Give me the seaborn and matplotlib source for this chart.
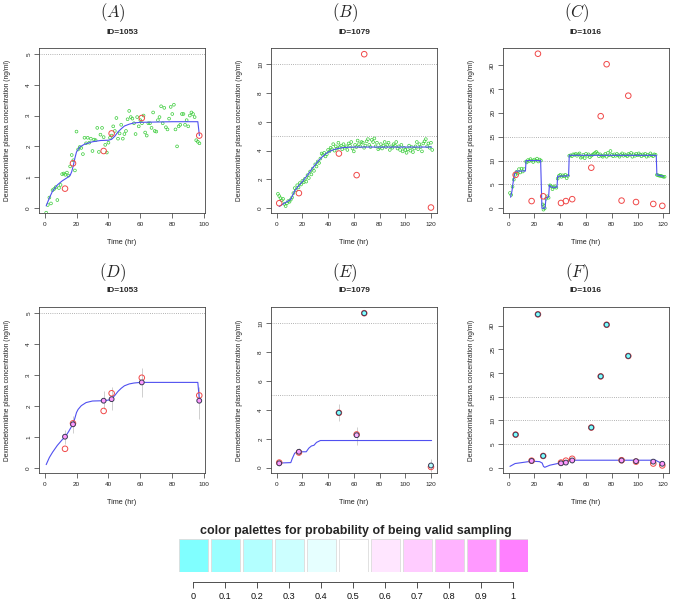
import numpy as np
import pandas as pd
import matplotlib
matplotlib.use("Agg")
import matplotlib.pyplot as plt
import seaborn as sns

sns.set_style("white")
plt.rcParams['font.family'] = ['Liberation Sans', 'DejaVu Sans']
plt.rcParams['mathtext.fontset'] = 'cm'
plt.rcParams['xtick.bottom'] = True
plt.rcParams['ytick.left'] = True

# ---------------- data ----------------
ylabel_text = "Dexmedetomidine plasma concentration (ng/ml)"
xlabel_text = "Time (hr)"
legend_title = "color palettes for probability of being valid sampling"
legend_ticks = [0, 0.1, 0.2, 0.3, 0.4, 0.5, 0.6, 0.7, 0.8, 0.9, 1]
legend_labels = ["0", "0.1", "0.2", "0.3", "0.4", "0.5", "0.6", "0.7", "0.8", "0.9", "1"]
cm_colors = ["#80FFFF", "#99FFFF", "#B3FFFF", "#CCFFFF", "#E6FFFF", "#FFFFFF",
             "#FFE6FF", "#FFCCFF", "#FFB3FF", "#FF99FF", "#FF80FF"]

# Patient 1053 (A, D)
A_green_t = list(range(1, 98))
A_green_c = [-0.15, 0.10, 0.34, 0.15, 0.58, 0.62, 0.68, 0.26, 0.65, 0.75, 1.10, 1.12, 1.08, 1.15,
             1.05, 1.35, 1.72, 1.55, 1.22, 2.48, 1.90, 1.98, 1.95, 1.75, 2.28, 2.10, 2.28, 2.12,
             2.25, 1.85, 2.22, 2.20, 2.60, 1.82, 2.38, 2.60, 2.30, 2.05, 1.80, 2.12, 2.28, 2.35,
             2.65, 2.50, 2.92, 2.25, 2.42, 2.70, 2.25, 2.40, 2.50, 2.88, 3.15, 2.95, 2.90, 2.75,
             2.40, 2.95, 2.65, 2.85, 2.75, 3.00, 2.45, 2.35, 2.75, 2.75, 2.60, 3.10, 2.50, 2.48,
             2.85, 2.95, 3.30, 2.75, 3.25, 2.62, 2.55, 2.90, 3.28, 3.05, 3.35, 2.55, 2.00, 2.65,
             2.70, 3.05, 3.05, 2.70, 2.85, 2.65, 3.00, 3.10, 3.05, 2.95, 2.20, 2.15, 2.10]
A_line_t = [1, 3, 5, 8, 11, 14, 16, 17, 18, 19, 20, 22, 25, 30, 35, 40, 42, 44, 46, 48, 50, 53, 56, 60, 70, 80, 90, 96, 97]
A_line_c = [0.07, 0.33, 0.55, 0.75, 0.88, 0.98, 1.06, 1.18, 1.38, 1.62, 1.82, 1.98, 2.07, 2.15, 2.19, 2.20,
            2.23, 2.33, 2.47, 2.57, 2.66, 2.72, 2.76, 2.78, 2.79, 2.80, 2.80, 2.80, 2.35]
A_obs_t = [12.8, 17.8, 37.0, 42.0, 60.9, 96.9]
A_obs_c = [0.63, 1.45, 1.85, 2.42, 2.92, 2.35]
D_line_t = [1, 3, 5, 8, 11, 13, 15, 17, 18, 19, 20, 21, 23, 26, 30, 37, 40, 42, 44, 46, 48, 50, 53, 56, 60, 70, 80, 90, 96, 97]
D_line_c = [0.12, 0.35, 0.52, 0.74, 0.92, 1.02, 1.18, 1.36, 1.45, 1.62, 1.80, 1.90, 2.02, 2.12, 2.17, 2.18,
            2.20, 2.24, 2.35, 2.48, 2.58, 2.66, 2.72, 2.75, 2.77, 2.77, 2.77, 2.77, 2.77, 2.20]
D_pred_c = [1.02, 1.42, 2.18, 2.23, 2.77, 2.18]
D_lo = [0.78, 1.15, 1.90, 1.88, 2.30, 1.60]
D_hi = [1.25, 1.70, 2.50, 2.62, 3.22, 2.62]
D_prob = [0.9, 0.9, 0.9, 0.9, 0.9, 0.9]

# Patient 1079 (B, E)
B_green_t = list(range(1, 122))
B_green_c = [1.00, 0.85, 0.70, 0.55, 0.65, 0.30, 0.15, 0.35, 0.50, 0.45, 0.60, 0.75, 1.05, 1.40, 1.25,
             1.60, 1.45, 1.75, 1.65, 1.90, 1.80, 2.05, 1.85, 2.30, 2.10, 2.55, 2.35, 2.75, 2.60, 3.05,
             2.90, 3.25, 3.15, 3.45, 3.80, 3.70, 3.85, 3.60, 3.75, 4.05, 3.95, 4.20, 4.10, 4.45, 4.00,
             4.30, 4.15, 4.55, 4.25, 4.35, 4.10, 4.45, 4.20, 4.30, 4.05, 4.50, 4.35, 4.60, 4.15, 3.95,
             4.40, 4.25, 4.70, 4.45, 4.30, 4.60, 4.55, 4.20, 4.35, 4.65, 4.80, 4.40, 4.25, 4.75, 4.60,
             4.85, 4.30, 4.55, 4.10, 4.20, 4.45, 4.15, 4.35, 4.60, 4.25, 4.40, 4.55, 4.05, 4.30, 4.20,
             4.45, 4.35, 4.60, 4.15, 4.30, 4.05, 4.40, 3.95, 4.20, 4.05, 3.85, 4.10, 4.35, 4.00, 4.25,
             3.90, 4.15, 4.30, 4.60, 4.10, 4.45, 4.25, 3.95, 4.50, 4.65, 4.80, 4.30, 4.50, 4.20, 4.55, 4.05]
B_line_t = [2, 5, 8, 11, 12, 14, 17, 20, 24, 28, 32, 36, 40, 44, 48, 52, 60, 120.5]
B_line_c = [0.12, 0.30, 0.45, 0.62, 0.82, 1.20, 1.55, 1.85, 2.30, 2.80, 3.25, 3.62, 3.90, 4.06, 4.16, 4.22, 4.25, 4.25]
B_obs_t = [2.0, 17.3, 48.4, 62.2, 68.1, 120.0]
B_obs_c = [0.35, 1.05, 3.80, 2.30, 10.70, 0.05]
E_line_t = [2, 11, 12, 14, 16, 23, 25, 27, 29, 31, 34, 120.5]
E_line_c = [0.32, 0.35, 0.60, 1.00, 1.10, 1.10, 1.35, 1.50, 1.55, 1.75, 1.88, 1.88]
E_pred_c = [0.30, 1.10, 3.80, 2.25, 10.70, 0.15]
E_lo = [0.12, 0.85, 3.25, 1.60, 10.55, -0.30]
E_hi = [0.50, 1.35, 4.40, 2.85, 10.85, 0.60]
E_prob = [0.9, 0.9, 0.0, 0.8, 0.0, 0.2]

# Patient 1016 (C, F)
C_green_t = [1, 2, 3, 4, 5, 6, 7, 8, 9, 10, 11, 12, 13.5, 14, 15, 16, 17, 18, 19, 20, 21, 22, 23, 24, 25,
             26.5, 27, 27.5, 28, 29, 30, 31, 32, 33, 34, 35, 36, 37, 38, 39, 40, 41, 42, 43, 44, 45, 46,
             47, 48, 49, 50, 51, 52, 53, 54, 55, 56, 57, 58, 59, 60, 61, 62, 63, 64, 65, 66, 67, 68, 69,
             70, 71, 72, 73, 74, 75, 76, 77, 78, 79, 80, 81, 82, 83, 84, 85, 86, 87, 88, 89, 90, 91, 92,
             93, 94, 95, 96, 97, 98, 99, 100, 101, 102, 103, 104, 105, 106, 107, 108, 109, 110, 111, 112,
             113, 114, 115, 116, 117, 118, 119, 120, 121]
C_green_c = [3.2, 2.8, 4.5, 6.0, 7.0, 7.6, 7.3, 8.2, 7.5, 8.3, 7.7, 8.2, 9.8, 9.6, 10.1, 9.9, 10.3, 10.0,
             9.7, 10.2, 10.0, 10.4, 9.8, 10.2, 10.0, 0.8, -0.3, 0.5, 0.0, 2.0, 2.5, 2.2, 4.8, 4.6, 4.0,
             4.4, 4.6, 4.3, 6.2, 6.8, 7.0, 6.6, 6.9, 6.7, 7.0, 6.3, 6.8, 11.0, 11.1, 10.9, 11.3, 11.2,
             11.4, 11.0, 11.3, 11.5, 10.6, 10.8, 11.2, 10.5, 11.4, 11.0, 11.3, 10.7, 11.0, 11.2, 11.4,
             11.6, 11.8, 11.5, 10.9, 11.3, 11.0, 10.8, 11.1, 11.4, 10.8, 11.6, 11.1, 12.0, 11.2, 10.9,
             11.3, 11.0, 11.4, 11.1, 10.8, 11.2, 11.5, 11.0, 11.3, 11.1, 10.9, 11.4, 11.2, 11.6, 10.8,
             11.3, 11.0, 11.4, 11.1, 11.5, 11.2, 10.9, 11.3, 11.1, 11.4, 10.8, 11.2, 11.0, 11.5, 11.1,
             10.9, 11.3, 11.2, 7.0, 6.9, 6.8, 6.8, 6.7, 6.6, 6.6]
C_line_t = [1.5, 2.5, 4.0, 5.0, 6.0, 13.0, 13.5, 24.8, 25.8, 28.2, 29.0, 31.0, 31.6, 33.5, 37.5, 38.0,
            46.5, 47.0, 114.5, 115.0, 120.0]
C_line_c = [2.3, 3.5, 6.5, 7.5, 7.8, 7.8, 10.0, 10.0, 0.0, 0.0, 2.2, 2.4, 4.8, 4.4, 4.4, 6.7, 6.8,
            11.1, 11.1, 7.0, 6.7]
C_obs_t = [5.4, 17.8, 22.7, 26.8, 40.6, 44.4, 49.3, 64.1, 71.4, 76.0, 87.6, 92.8, 98.8, 112.2, 119.2]
C_obs_c = [7.0, 1.5, 32.4, 2.5, 1.1, 1.5, 1.9, 8.5, 19.3, 30.2, 1.6, 23.6, 1.3, 0.9, 0.5]
F_line_t = [1, 5, 9, 18, 24, 26, 27, 28, 32, 38, 41, 47, 50, 114, 116, 120]
F_line_c = [0.3, 0.9, 1.05, 1.4, 1.3, 1.0, 0.3, 0.1, 0.55, 0.9, 1.0, 1.5, 1.6, 1.6, 1.3, 0.8]
F_pred_c = [7.0, 1.45, 32.4, 2.5, 0.95, 1.1, 1.55, 8.5, 19.3, 30.2, 1.55, 23.6, 1.4, 1.3, 0.85]
F_lo = [6.8, 1.0, 32.2, 2.2, 0.5, 0.7, 1.1, 8.3, 19.1, 30.0, 1.1, 23.4, 0.9, 0.8, 0.4]
F_hi = [7.2, 1.9, 32.6, 2.8, 1.4, 1.5, 2.0, 8.7, 19.5, 30.4, 2.0, 23.8, 1.9, 1.8, 1.3]
F_prob = [0.0, 0.9, 0.0, 0.0, 0.9, 0.9, 0.9, 0.0, 0.0, 0.0, 0.9, 0.0, 0.9, 0.9, 0.9]

# ---------------- figure ----------------
W, H = 675, 604
fig = plt.figure(figsize=(W / 100, H / 100), dpi=100)


def axes_px(l, t, w, h):
    return fig.add_axes([l / W, 1 - (t + h) / H, w / W, h / H])


GREEN = "#3ACC3A"
RED = "#F04848"
BLUE = "#5050F0"


def prob_color(p):
    return cm_colors[int(round(p * 10))]


def style(ax, xlim, ylim, xticks, yticks, hlines, letter, pid, top_title, top_id):
    ax.set_xlim(*xlim)
    ax.set_ylim(*ylim)
    for h in hlines:
        ax.axhline(h, color="#9a9a9a", lw=0.6, ls=(0, (1, 1.6)), zorder=0)
    ax.set_xticks(xticks)
    ax.set_yticks(yticks)
    ax.set_xticklabels([str(v) for v in xticks])
    ax.set_yticklabels([str(v) for v in yticks], rotation=90, va="center")
    ax.tick_params(axis="both", direction="out", length=3.6, width=0.5, colors="#333333",
                   labelsize=4.6, labelcolor="#222222", left=True, bottom=True,
                   right=False, top=False)
    ax.tick_params(axis="y", pad=2.0)
    ax.tick_params(axis="x", pad=3.2)
    for s in ax.spines.values():
        s.set_linewidth(0.6)
        s.set_color("#444444")
        s.set_visible(True)
    ax.set_xlabel(xlabel_text, fontsize=5.2, color="#222222")
    ax.set_ylabel(ylabel_text, fontsize=4.8, color="#222222")
    ax.xaxis.set_label_coords(0.5, -0.155)
    ax.yaxis.set_label_coords(-0.17, 0.5)
    bb = ax.get_position()
    cx = (bb.x0 + bb.x1) / 2
    fig.text(cx - 9 / W, 1 - top_title / H, "$(" + letter + ")$", ha="center", va="center", fontsize=12)
    fig.text(cx, 1 - top_id / H, "ID=" + pid, ha="center", va="center", fontsize=6, fontweight="bold")


lefts = [39, 271, 503]
top_row, bot_row = 48, 307
aw, ah = 166, 165

top_specs = [
    (A_green_t, A_green_c, A_line_t, A_line_c, A_obs_t, A_obs_c, (-3.5, 100.5), (-0.16, 5.19),
     [0, 20, 40, 60, 80, 100], [0, 1, 2, 3, 4, 5], [5], "A", "1053"),
    (B_green_t, B_green_c, B_line_t, B_line_c, B_obs_t, B_obs_c, (-4.4, 124.7), (-0.33, 11.13),
     [0, 20, 40, 60, 80, 100, 120], [0, 2, 4, 6, 8, 10], [5, 10], "B", "1079"),
    (C_green_t, C_green_c, C_line_t, C_line_c, C_obs_t, C_obs_c, (-4.4, 124.4), (-1.0, 33.6),
     [0, 20, 40, 60, 80, 100, 120], [0, 5, 10, 15, 20, 25, 30], [5, 10, 15], "C", "1016"),
]
bot_specs = [
    (D_line_t, D_line_c, A_obs_t, A_obs_c, D_pred_c, D_lo, D_hi, D_prob, (-3.5, 100.5), (-0.15, 5.2),
     [0, 20, 40, 60, 80, 100], [0, 1, 2, 3, 4, 5], [5], "D", "1053"),
    (E_line_t, E_line_c, B_obs_t, B_obs_c, E_pred_c, E_lo, E_hi, E_prob, (-4.4, 124.7), (-0.37, 11.13),
     [0, 20, 40, 60, 80, 100, 120], [0, 2, 4, 6, 8, 10], [5, 10], "E", "1079"),
    (F_line_t, F_line_c, C_obs_t, C_obs_c, F_pred_c, F_lo, F_hi, F_prob, (-4.4, 124.4), (-1.1, 33.95),
     [0, 20, 40, 60, 80, 100, 120], [0, 5, 10, 15, 20, 25, 30], [5, 10, 15], "F", "1016"),
]

for left, spec in zip(lefts, top_specs):
    gt, gc, lt, lc, ot, oc, xl, yl, xt, yt, hl, letter, pid = spec
    ax = axes_px(left, top_row, aw, ah)
    sns.scatterplot(x=gt, y=gc, ax=ax, marker="o", s=4, facecolor="none", edgecolor=GREEN,
                    linewidth=0.5, zorder=2)
    sns.lineplot(x=lt, y=lc, ax=ax, color=BLUE, lw=0.8, estimator=None, sort=False, zorder=3)
    sns.scatterplot(x=ot, y=oc, ax=ax, marker="o", s=16, facecolor="none", edgecolor=RED,
                    linewidth=0.7, zorder=4)
    style(ax, xl, yl, xt, yt, hl, letter, pid, 13, 32)

for left, spec in zip(lefts, bot_specs):
    lt, lc, ot, oc, pc, lo, hi, pr, xl, yl, xt, yt, hl, letter, pid = spec
    ax = axes_px(left, bot_row, aw, 166)
    ax.vlines(ot, lo, hi, color="#cfcfcf", lw=0.7, zorder=1)
    sns.lineplot(x=lt, y=lc, ax=ax, color=BLUE, lw=0.8, estimator=None, sort=False, zorder=2)
    sns.scatterplot(x=ot, y=oc, ax=ax, marker="o", s=16, facecolor="none", edgecolor=RED,
                    linewidth=0.7, zorder=3)
    sns.scatterplot(x=ot, y=pc, ax=ax, marker="o", s=12, color=[prob_color(p) for p in pr],
                    edgecolor="#3a3a55", linewidth=0.7, zorder=4)
    style(ax, xl, yl, xt, yt, hl, letter, pid, 273, 290)

# ---------------- colour legend ----------------
lax = axes_px(178.9, 539, 348.8, 33)
lax.bar(legend_ticks, [1] * len(legend_ticks), width=0.09, color=cm_colors, edgecolor="#dcdcdc",
        linewidth=0.6, bottom=0)
lax.set_xlim(-0.045, 1.045)
lax.set_ylim(0, 1)
lax.set_yticks([])
lax.set_xticks(legend_ticks)
lax.set_xticklabels(legend_labels)
for k in ["top", "left", "right"]:
    lax.spines[k].set_visible(False)
lax.spines["bottom"].set_position(("outward", 7))
lax.spines["bottom"].set_bounds(0, 1)
lax.spines["bottom"].set_linewidth(0.6)
lax.spines["bottom"].set_color("#333333")
lax.tick_params(axis="x", direction="out", length=4.5, width=0.6, colors="#333333",
                labelsize=6.6, pad=3.0, labelcolor="#111111", bottom=True)
lax.set_facecolor("none")
fig.text(356 / W, 1 - 531 / H, legend_title, ha="center", va="center", fontsize=9, fontweight="bold")

fig.savefig("out.png", dpi=100)
